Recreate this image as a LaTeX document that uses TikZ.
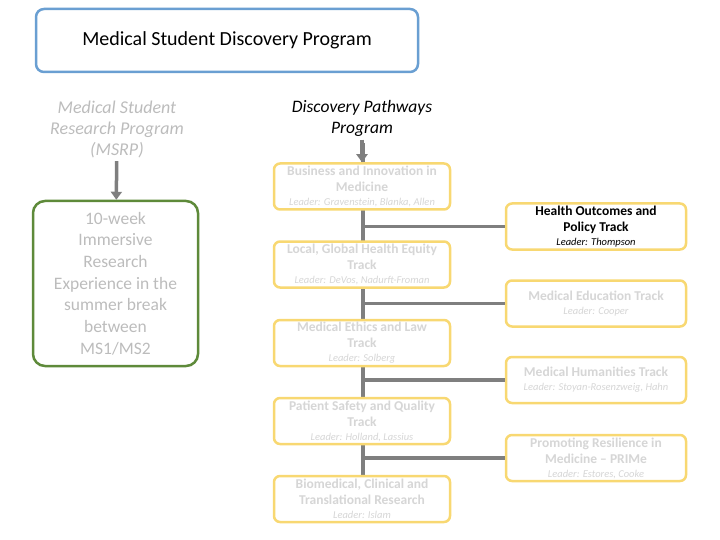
\documentclass[tikz,border=0pt]{standalone}
\usepackage{fontspec}
\setmainfont{Carlito}
\usetikzlibrary{positioning, arrows.meta}
\definecolor{trackyellow}{HTML}{F8D872}
\definecolor{headblue}{HTML}{6A9FD2}
\definecolor{msrpgreen}{HTML}{5E8A3A}
\definecolor{fadegray}{HTML}{D6D6D6}
\definecolor{linegray}{HTML}{7F7F7F}
\newcommand{\leadline}[1]{\\[-2pt]\mdseries\fontsize{10.5}{11}\selectfont\itshape #1}
\tikzset{
  track/.style={draw=trackyellow, line width=2.5pt, rounded corners=6pt, fill=white,
    minimum width=176pt, minimum height=46pt, align=center, font=\fontsize{13.5}{16}\selectfont\bfseries, text=fadegray, inner sep=1pt},
  trunk/.style={draw=linegray, line width=3.5pt},
}
\begin{document}
\begin{tikzpicture}[x=1pt, y=-1pt]
    \useasboundingbox (0,0) rectangle (720,540);
    % trunk and branches first
    \coordinate (top) at (363,143);
    \coordinate (bot) at (363,476);
    \draw[trunk] (top) -- (bot);

    \node (head) [draw=headblue, line width=2.5pt, rounded corners=8pt, minimum width=382pt, minimum height=63pt,
        font=\fontsize{20}{22}\selectfont] at (227,40.5) {Medical Student Discovery Program};
    \node (msrp) [align=center, text=fadegray!70!gray, font=\fontsize{18}{21}\selectfont\itshape] at (117,129)
        {Medical Student\\Research Program\\(MSRP)};
    \node (dpp) [align=center, font=\fontsize{17.5}{21}\selectfont\itshape] at (362,118) {Discovery Pathways\\Program};
    \node (immersive) [draw=msrpgreen, line width=2.5pt, rounded corners=12pt, minimum width=165pt, minimum height=165pt,
        align=center, text=fadegray!70!gray, font=\fontsize{17.5}{21.7}\selectfont] at (115.5,283.5)
        {10-week\\Immersive\\Research\\Experience in the\\summer break\\between\\MS1/MS2};

    % left column
    \node (bus) [track] at (362,186.5) {Business and Innovation in\\Medicine\leadline{Leader: Gravenstein, Blanka, Allen}};
    \node (local) [track] at (362,264.5) {Local, Global Health Equity\\Track\leadline{Leader: DeVos, Nadurft-Froman}};
    \node (ethics) [track] at (362,343) {Medical Ethics and Law\\Track\leadline{Leader: Solberg}};
    \node (safety) [track] at (362,421) {Patient Safety and Quality\\Track\leadline{Leader: Holland, Lassius}};
    \node (biomed) [track] at (362,499) {Biomedical, Clinical and\\Translational Research\leadline{Leader: Islam}};

    % right column
    \node (health) [track, minimum width=180pt, text=black] at (596,226.5) {Health Outcomes and\\Policy Track\leadline{Leader: Thompson}};
    \node (meded) [track, minimum width=180pt] at (596,303.5) {Medical Education Track\leadline{Leader: Cooper}};
    \node (human) [track, minimum width=180pt] at (596,380) {Medical Humanities Track\leadline{Leader: Stoyan-Rosenzweig, Hahn}};
    \node (prime) [track, minimum width=180pt] at (596,458) {Promoting Resilience in\\Medicine -- PRIMe\leadline{Leader: Estores, Cooke}};

    \draw[trunk] (363,226.5) -- (health.west);
    \draw[trunk] (363,303.5) -- (meded.west);
    \draw[trunk] (363,380) -- (human.west);
    \draw[trunk] (363,458) -- (prime.west);

    \draw[trunk, -{Triangle[length=8pt, width=11pt]}] (msrp) -- (immersive);
    \draw[trunk, -{Triangle[length=8pt, width=11pt]}] (dpp) -- (bus);
\end{tikzpicture}
\end{document}
